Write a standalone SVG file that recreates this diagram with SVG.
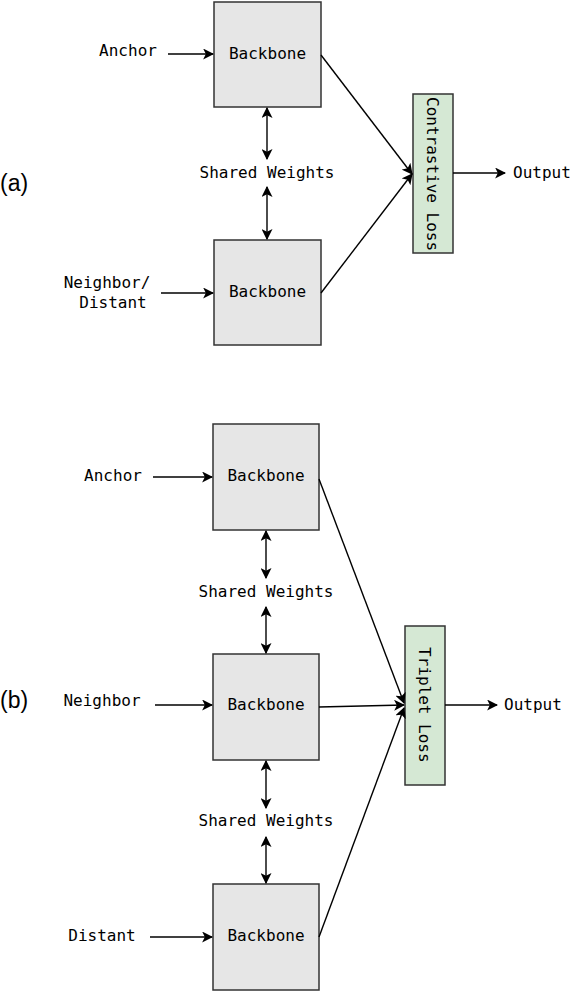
<svg xmlns="http://www.w3.org/2000/svg" width="572" height="992" viewBox="0 0 572 992">
<style>
.box{fill:#e6e6e6;stroke:#333;stroke-width:1.5}
.loss{fill:#d5e8d4;stroke:#333;stroke-width:1.5}
.t{font-family:"DejaVu Sans Mono","Liberation Mono",monospace;font-size:16px;fill:#000}
.lbl{font-family:"Liberation Sans",Arial,sans-serif;font-size:23px;fill:#000}
.c{fill:none;stroke:#000;stroke-width:1.4}
</style>
<defs>
<marker id="ah" viewBox="0 0 10 10" refX="9" refY="5" markerWidth="11" markerHeight="11" markerUnits="userSpaceOnUse" orient="auto-start-reverse">
<path d="M0,0 L10,5 L0,10 L2.5,5 Z" fill="#000"/>
</marker>
</defs>
<text class="lbl" x="0" y="191">(a)</text>
<text class="lbl" x="0" y="708">(b)</text>
<g id="a-backbone1"><rect class="box" x="214" y="2" width="107" height="105"/><text class="t" x="267.5" y="59" text-anchor="middle">Backbone</text></g>
<g id="a-backbone2"><rect class="box" x="214" y="240" width="107" height="105"/><text class="t" x="267.5" y="297" text-anchor="middle">Backbone</text></g>
<g id="a-loss"><rect class="loss" x="413" y="94" width="40" height="159"/><text class="t" transform="translate(427,97) rotate(90)" text-anchor="start">Contrastive Loss</text></g>
<g id="a-anchor"><text class="t" x="128" y="56" text-anchor="middle">Anchor</text></g>
<g id="a-neighbor"><text class="t" x="107" y="288" text-anchor="middle">Neighbor/</text><text class="t" x="113" y="308" text-anchor="middle">Distant</text></g>
<g id="a-shared"><text class="t" x="267" y="178" text-anchor="middle">Shared Weights</text></g>
<g id="a-output"><text class="t" x="513" y="178">Output</text></g>
<g id="b-backbone1"><rect class="box" x="213" y="424" width="106" height="106"/><text class="t" x="266" y="481" text-anchor="middle">Backbone</text></g>
<g id="b-backbone2"><rect class="box" x="213" y="654" width="106" height="106"/><text class="t" x="266" y="710" text-anchor="middle">Backbone</text></g>
<g id="b-backbone3"><rect class="box" x="213" y="884" width="106" height="106"/><text class="t" x="266" y="941" text-anchor="middle">Backbone</text></g>
<g id="b-loss"><rect class="loss" x="405" y="626" width="40" height="159"/><text class="t" transform="translate(419,647) rotate(90)" text-anchor="start">Triplet Loss</text></g>
<g id="b-anchor"><text class="t" x="113" y="481" text-anchor="middle">Anchor</text></g>
<g id="b-neighbor"><text class="t" x="102" y="706" text-anchor="middle">Neighbor</text></g>
<g id="b-distant"><text class="t" x="102" y="941" text-anchor="middle">Distant</text></g>
<g id="b-shared1"><text class="t" x="266" y="597" text-anchor="middle">Shared Weights</text></g>
<g id="b-shared2"><text class="t" x="266" y="826" text-anchor="middle">Shared Weights</text></g>
<g id="b-output"><text class="t" x="504" y="710">Output</text></g>
<g id="connectors">
<line class="c" x1="168" y1="54" x2="213" y2="54" marker-end="url(#ah)"/>
<line class="c" x1="161" y1="293" x2="213" y2="293" marker-end="url(#ah)"/>
<line class="c" x1="267" y1="108" x2="267" y2="159" marker-start="url(#ah)" marker-end="url(#ah)"/>
<line class="c" x1="267" y1="187" x2="267" y2="239" marker-start="url(#ah)" marker-end="url(#ah)"/>
<line class="c" x1="321" y1="55" x2="412" y2="174" marker-end="url(#ah)"/>
<line class="c" x1="321" y1="293" x2="412" y2="174" marker-end="url(#ah)"/>
<line class="c" x1="453" y1="173" x2="505" y2="173" marker-end="url(#ah)"/>
<line class="c" x1="153" y1="477" x2="212" y2="477" marker-end="url(#ah)"/>
<line class="c" x1="155" y1="705" x2="212" y2="705" marker-end="url(#ah)"/>
<line class="c" x1="150" y1="937" x2="212" y2="937" marker-end="url(#ah)"/>
<line class="c" x1="266" y1="531" x2="266" y2="578" marker-start="url(#ah)" marker-end="url(#ah)"/>
<line class="c" x1="266" y1="607" x2="266" y2="653" marker-start="url(#ah)" marker-end="url(#ah)"/>
<line class="c" x1="266" y1="761" x2="266" y2="808" marker-start="url(#ah)" marker-end="url(#ah)"/>
<line class="c" x1="266" y1="837" x2="266" y2="883" marker-start="url(#ah)" marker-end="url(#ah)"/>
<line class="c" x1="319" y1="479" x2="404" y2="703" marker-end="url(#ah)"/>
<line class="c" x1="319" y1="707" x2="404" y2="705" marker-end="url(#ah)"/>
<line class="c" x1="319" y1="937" x2="404" y2="708" marker-end="url(#ah)"/>
<line class="c" x1="445" y1="705" x2="497" y2="705" marker-end="url(#ah)"/>
</g>
</svg>
